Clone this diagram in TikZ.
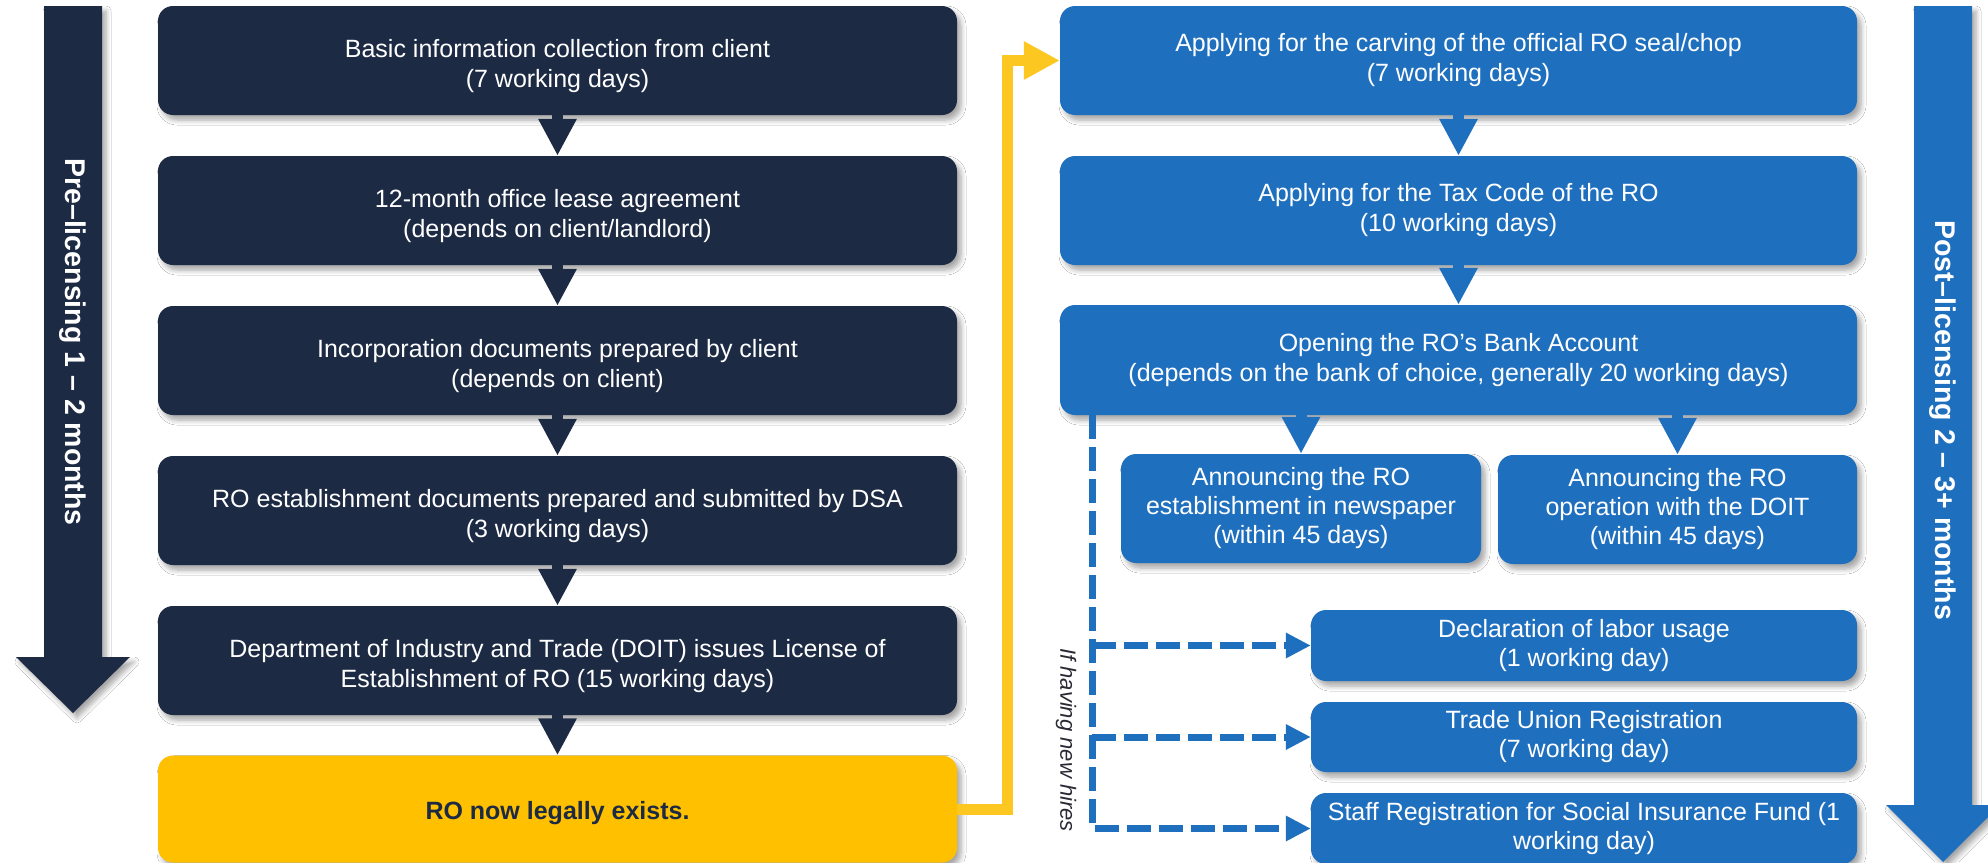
\documentclass[tikz,border=0pt]{standalone}
\usepackage{fontspec}
\setmainfont{Liberation Sans}
\usetikzlibrary{arrows.meta,shadows.blur,calc}
\definecolor{navy}{HTML}{1D2A44}
\definecolor{roblue}{HTML}{1F6FBF}
\definecolor{gold}{HTML}{FFC000}
\definecolor{goldline}{HTML}{FCC720}
\definecolor{hiretext}{HTML}{2A2A35}
\tikzset{
  boxshadow/.style={blur shadow={shadow xshift=4pt, shadow yshift=-5pt, shadow blur steps=6, shadow blur radius=5pt, shadow opacity=35}},
  stepbase/.style={rectangle, rounded corners=15pt, align=center, inner sep=0pt, font=\fontsize{25}{30}\selectfont, text=white, boxshadow},
  navybox/.style={stepbase, fill=navy, minimum width=799pt, minimum height=109pt},
  lefttext/.style={align=center, inner sep=0pt, text=white, font=\fontsize{25}{30}\selectfont, yshift=-6pt},
  bluebox/.style={stepbase, fill=roblue},
  smallbox/.style={bluebox, font=\fontsize{25}{29}\selectfont},
  navyflow/.style={draw=navy, line width=11pt, -{Triangle[length=37pt,width=36pt]}},
  blueflow/.style={draw=roblue, line width=11pt, -{Triangle[length=37pt,width=36pt]}},
  goldflow/.style={draw=goldline, line width=11pt, -{Triangle[length=36pt,width=36pt]}},
  hireflow/.style={draw=roblue, line width=7pt, dash pattern=on 24pt off 8pt, -{Triangle[length=25pt,width=24pt]}},
  barlabel/.style={rotate=-90, text=white, font=\bfseries\fontsize{28.5}{34}\selectfont},
}
\begin{document}
\begin{tikzpicture}[x=1pt,y=-1pt]
\clip (0,0) rectangle (1988,862);
\fill[white] (0,0) rectangle (1988,862);
% phase bars
\fill[navy, boxshadow] (44,6) -- (102,6) -- (102,657) -- (130,657) -- (73,713) -- (16,657) -- (44,657) -- cycle;
\node[barlabel] (prelab) at (73,342) {Pre–licensing 1 – 2 months};
\fill[roblue, boxshadow] (1914,6) -- (1972,6) -- (1972,805) -- (2000,805) -- (1943,862) -- (1886,805) -- (1914,805) -- cycle;
\node[barlabel] (postlab) at (1943,420) {Post–licensing 2 – 3+ months};
% left column
\node[navybox, label={[lefttext]center:{Basic information collection from client\\(7 working days)}}] (b1) at (557.5,60.5) {};
\node[navybox, label={[lefttext]center:{12-month office lease agreement\\(depends on client/landlord)}}] (b2) at (557.5,210.5) {};
\node[navybox, label={[lefttext]center:{Incorporation documents prepared by client\\(depends on client)}}] (b3) at (557.5,360.5) {};
\node[navybox, label={[lefttext]center:{RO establishment documents prepared and submitted by DSA\\(3 working days)}}] (b4) at (557.5,510.5) {};
\node[navybox, label={[lefttext]center:{Department of Industry and Trade (DOIT) issues License of\\Establishment of RO (15 working days)}}] (b5) at (557.5,660.5) {};
\node[navybox, fill=gold, minimum height=107pt, label={[lefttext, text=navy, font=\bfseries\fontsize{25}{30}\selectfont, yshift=2pt]center:{RO now legally exists.}}] (yl) at (557.5,809) {};
\draw[navyflow] (b1.south) -- (b2.north);
\draw[navyflow] (b2.south) -- (b3.north);
\draw[navyflow] (b3.south) -- (b4.north);
\draw[navyflow] (b4.south) -- (b5.north);
\draw[navyflow] (b5.south) -- (yl.north);
% right column
\node[bluebox, minimum width=797pt, minimum height=109pt] (r1) at (1458.5,60.5) {Applying for the carving of the official RO seal/chop\\(7 working days)};
\node[bluebox, minimum width=797pt, minimum height=109pt] (r2) at (1458.5,210.5) {Applying for the Tax Code of the RO\\(10 working days)};
\node[bluebox, minimum width=797pt, minimum height=110pt] (r3) at (1458.5,360) {Opening the RO’s Bank Account\\(depends on the bank of choice, generally 20 working days)};
\node[smallbox, minimum width=360pt, minimum height=109pt] (a1) at (1301,508.5) {Announcing the RO\\establishment in newspaper\\(within 45 days)};
\node[smallbox, minimum width=359pt, minimum height=109pt] (a2) at (1677.5,509.5) {Announcing the RO\\operation with the DOIT\\(within 45 days)};
\node[smallbox, minimum width=546pt, minimum height=71pt] (d1) at (1584,645.5) {Declaration of labor usage\\(1 working day)};
\node[smallbox, minimum width=546pt, minimum height=70pt] (d2) at (1584,737) {Trade Union Registration\\(7 working day)};
\node[smallbox, minimum width=546pt, minimum height=71pt] (d3) at (1584,828.5) {Staff Registration for Social Insurance Fund (1\\working day)};
\draw[blueflow] (r1.south) -- (r2.north);
\draw[blueflow] (r2.south) -- (r3.north);
\draw[blueflow] (a1.north |- r3.south) -- (a1.north);
\draw[blueflow] (a2.north |- r3.south) -- (a2.north);
% yellow connector
\draw[goldflow] (yl.east) -- ++(50,0) |- (r1.west);
% new hires
\coordinate (dv) at (1092,415);
\draw[hireflow] (dv) |- (d3.west);
\draw[hireflow] (dv |- d1.west) -- (d1.west);
\draw[hireflow] (dv |- d2.west) -- (d2.west);
\node[rotate=-90, text=hiretext, font=\itshape\fontsize{22}{26}\selectfont] (hire) at (1066,740) {If having new hires};
\end{tikzpicture}
\end{document}
